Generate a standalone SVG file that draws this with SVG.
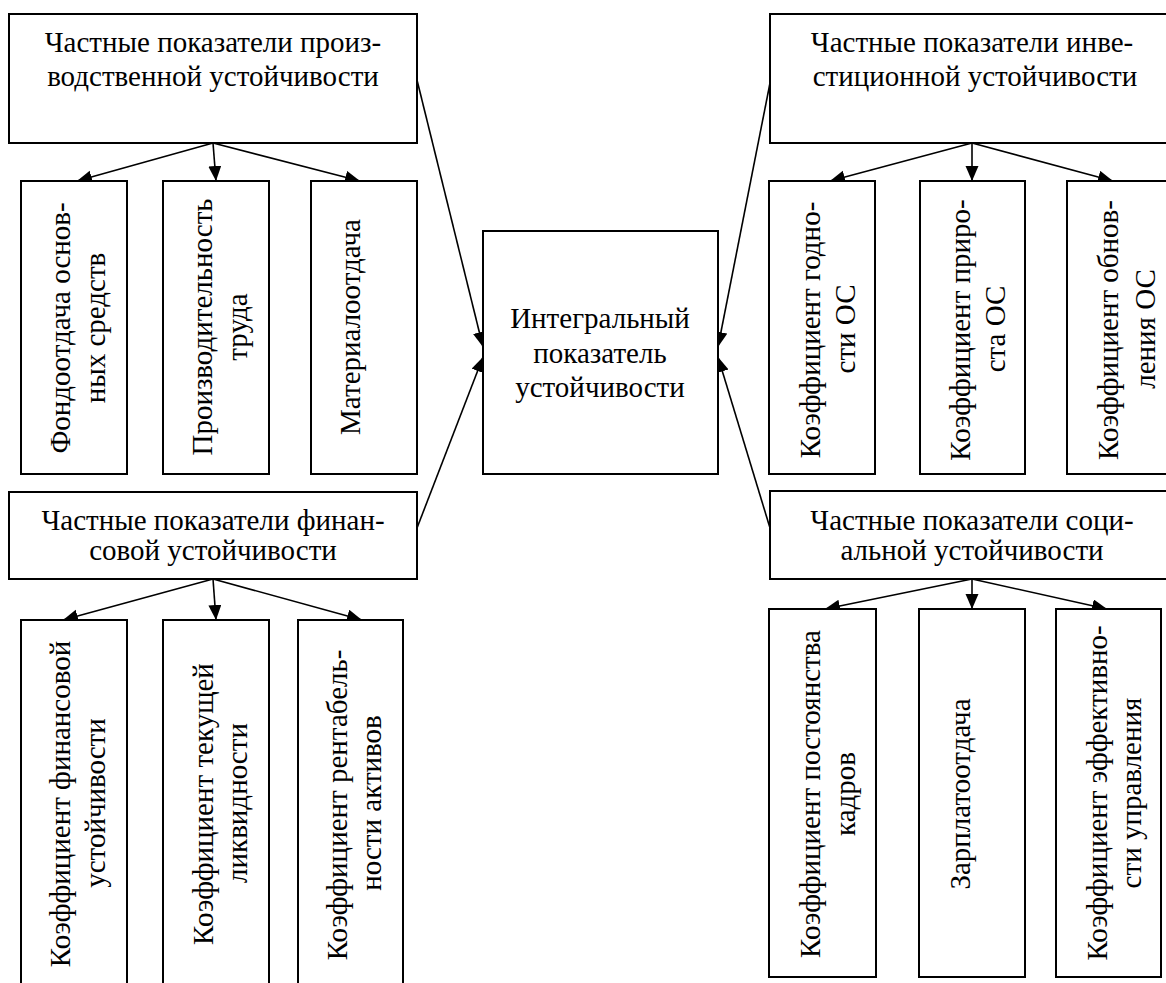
<svg xmlns="http://www.w3.org/2000/svg" width="1166" height="983" viewBox="0 0 1166 983">
<style>
.box{fill:#fff;stroke:#000;stroke-width:2}
.t{font-family:'Liberation Serif','Times New Roman',serif;font-size:29px;fill:#000;text-anchor:middle}
.c{fill:none;stroke:#000;stroke-width:1.6}
</style>
<defs>
<marker id="ah" markerUnits="userSpaceOnUse" markerWidth="16" markerHeight="14" refX="15" refY="6.5" orient="auto">
<path d="M0,0 L15,6.5 L0,13 z" fill="#000"/>
</marker>
</defs>
<rect width="1166" height="983" fill="#fff"/>
<g id="connectors">
<line class="c" x1="213" y1="143" x2="77" y2="181" marker-end="url(#ah)"/>
<line class="c" x1="213" y1="143" x2="216" y2="181" marker-end="url(#ah)"/>
<line class="c" x1="213" y1="143" x2="360" y2="181" marker-end="url(#ah)"/>
<line class="c" x1="972" y1="143" x2="830" y2="181" marker-end="url(#ah)"/>
<line class="c" x1="972" y1="143" x2="972" y2="181" marker-end="url(#ah)"/>
<line class="c" x1="972" y1="143" x2="1113" y2="181" marker-end="url(#ah)"/>
<line class="c" x1="213" y1="579" x2="63" y2="620" marker-end="url(#ah)"/>
<line class="c" x1="213" y1="579" x2="216" y2="620" marker-end="url(#ah)"/>
<line class="c" x1="213" y1="579" x2="362" y2="620" marker-end="url(#ah)"/>
<line class="c" x1="972" y1="579" x2="825" y2="609" marker-end="url(#ah)"/>
<line class="c" x1="972" y1="579" x2="972" y2="609" marker-end="url(#ah)"/>
<line class="c" x1="972" y1="579" x2="1107" y2="609" marker-end="url(#ah)"/>
<line class="c" x1="417" y1="80" x2="483" y2="347" marker-end="url(#ah)"/>
<line class="c" x1="417" y1="528" x2="483" y2="357" marker-end="url(#ah)"/>
<line class="c" x1="770" y1="83" x2="718" y2="347" marker-end="url(#ah)"/>
<line class="c" x1="770" y1="528" x2="718" y2="357" marker-end="url(#ah)"/>
</g>
<g id="n-prod">
<rect class="box" x="9" y="14" width="408" height="129"/>
<text class="t" x="213" y="52">Частные показатели произ-</text>
<text class="t" x="213" y="86">водственной устойчивости</text>
</g>
<g id="n-fondo">
<rect class="box" x="21" y="181" width="106" height="293"/>
<text class="t" transform="translate(70,328) rotate(-90)">Фондоотдача основ-</text>
<text class="t" transform="translate(105,328) rotate(-90)">ных средств</text>
</g>
<g id="n-proizv">
<rect class="box" x="163" y="181" width="106" height="293"/>
<text class="t" transform="translate(212,327) rotate(-90)">Производительность</text>
<text class="t" transform="translate(247,327) rotate(-90)">труда</text>
</g>
<g id="n-mater">
<rect class="box" x="311" y="181" width="106" height="293"/>
<text class="t" transform="translate(360,327) rotate(-90)">Материалоотдача</text>
</g>
<g id="n-invest">
<rect class="box" x="770" y="14" width="406" height="129"/>
<text class="t" x="972" y="52">Частные показатели инве-</text>
<text class="t" x="975" y="86">стиционной устойчивости</text>
</g>
<g id="n-godn">
<rect class="box" x="769" y="181" width="106" height="293"/>
<text class="t" transform="translate(820,330) rotate(-90)">Коэффициент годно-</text>
<text class="t" transform="translate(855,329) rotate(-90)">сти ОС</text>
</g>
<g id="n-prir">
<rect class="box" x="920" y="181" width="105" height="293"/>
<text class="t" transform="translate(970,330) rotate(-90)">Коэффициент приро-</text>
<text class="t" transform="translate(1005,329) rotate(-90)">ста ОС</text>
</g>
<g id="n-obn">
<rect class="box" x="1067" y="181" width="108" height="293"/>
<text class="t" transform="translate(1118,330) rotate(-90)">Коэффициент обнов-</text>
<text class="t" transform="translate(1155,329) rotate(-90)">ления ОС</text>
</g>
<g id="n-integral">
<rect class="box" x="483" y="231" width="235" height="243"/>
<text class="t" x="600" y="328">Интегральный</text>
<text class="t" x="600" y="363">показатель</text>
<text class="t" x="600" y="397">устойчивости</text>
</g>
<g id="n-fin">
<rect class="box" x="9" y="492" width="408" height="87"/>
<text class="t" x="213" y="530">Частные показатели финан-</text>
<text class="t" x="213" y="560">совой устойчивости</text>
</g>
<g id="n-finust">
<rect class="box" x="21" y="620" width="106" height="375"/>
<text class="t" transform="translate(70,804) rotate(-90)">Коэффициент финансовой</text>
<text class="t" transform="translate(105,803) rotate(-90)">устойчивости</text>
</g>
<g id="n-tek">
<rect class="box" x="163" y="620" width="106" height="375"/>
<text class="t" transform="translate(213,804) rotate(-90)">Коэффициент текущей</text>
<text class="t" transform="translate(247,803) rotate(-90)">ликвидности</text>
</g>
<g id="n-rent">
<rect class="box" x="298" y="620" width="105" height="375"/>
<text class="t" transform="translate(347,805) rotate(-90)">Коэффициент рентабель-</text>
<text class="t" transform="translate(381,803) rotate(-90)">ности активов</text>
</g>
<g id="n-soc">
<rect class="box" x="770" y="491" width="406" height="88"/>
<text class="t" x="972" y="530">Частные показатели соци-</text>
<text class="t" x="972" y="560">альной устойчивости</text>
</g>
<g id="n-post">
<rect class="box" x="769" y="609" width="107" height="368"/>
<text class="t" transform="translate(820,794) rotate(-90)">Коэффициент постоянства</text>
<text class="t" transform="translate(855,794) rotate(-90)">кадров</text>
</g>
<g id="n-zarp">
<rect class="box" x="919" y="609" width="106" height="368"/>
<text class="t" transform="translate(970,794) rotate(-90)">Зарплатоотдача</text>
</g>
<g id="n-eff">
<rect class="box" x="1056" y="609" width="105" height="368"/>
<text class="t" transform="translate(1107,793) rotate(-90)">Коэффициент эффективно-</text>
<text class="t" transform="translate(1141,793) rotate(-90)">сти управления</text>
</g>
</svg>
